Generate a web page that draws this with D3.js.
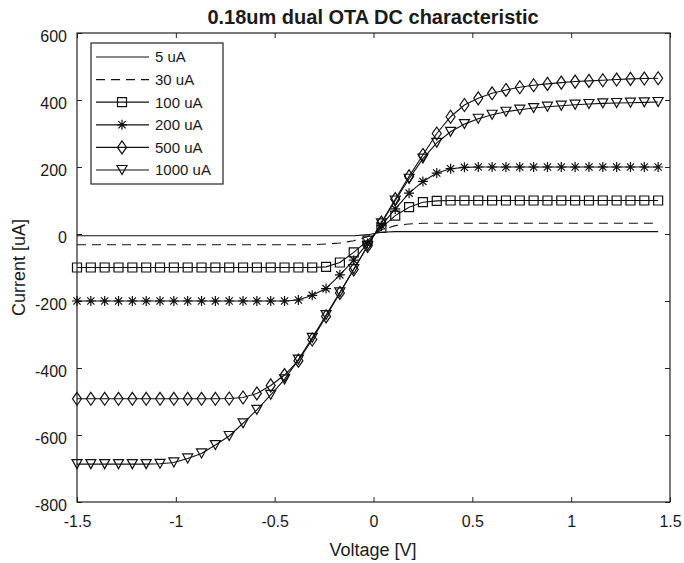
<!DOCTYPE html>
<html>
<head>
<meta charset="utf-8">
<script src="https://cdn.jsdelivr.net/npm/d3@7"></script>
<style>
body { margin: 0; background: #fff; }
text { font-family: "Liberation Sans", Arial, sans-serif; fill: #1a1a1a; }
</style>
</head>
<body>
<svg id="dcChart" width="684" height="563"></svg>
<script>
// sweep voltage [V]
var voltage = [-1.50, -1.43, -1.36, -1.29, -1.22, -1.15, -1.08, -1.01, -0.94, -0.87,
    -0.80, -0.73, -0.66, -0.59, -0.52, -0.45, -0.38, -0.31, -0.24, -0.17,
    -0.10, -0.03, 0.04, 0.11, 0.18, 0.25, 0.32, 0.39, 0.46, 0.53,
    0.60, 0.67, 0.74, 0.81, 0.88, 0.95, 1.02, 1.09, 1.16, 1.23,
    1.30, 1.37, 1.44];

// output current [uA] per bias
var bias5 = [-5, -5, -5, -5, -5, -5, -5, -5, -5, -5,
    -5, -5, -5, -5, -5, -5, -5, -5, -5, -5,
    -5, -2, 5, 7, 7, 7, 7, 7, 7, 7,
    7, 7, 7, 7, 7, 7, 7, 7, 7, 7,
    7, 7, 7];
var bias30 = [-32, -32, -32, -32, -32, -32, -32, -32, -32, -32,
    -32, -32, -32, -32, -32, -32, -32, -32, -30, -27,
    -20, -8, 12, 25, 30, 32, 32, 32, 32, 32,
    32, 32, 32, 32, 32, 32, 32, 32, 32, 32,
    32, 32, 32];
var bias100 = [-100, -100, -100, -100, -100, -100, -100, -100, -100, -100,
    -100, -100, -100, -100, -100, -100, -100, -100, -98, -85,
    -55, -20, 18, 55, 80, 95, 99, 100, 100, 100,
    100, 100, 100, 100, 100, 100, 100, 100, 100, 100,
    100, 100, 100];
var bias200 = [-200, -200, -200, -200, -200, -200, -200, -200, -200, -200,
    -200, -200, -200, -200, -200, -200, -197, -183, -163, -122,
    -78, -28, 25, 75, 122, 157, 182, 195, 199, 200,
    200, 200, 200, 200, 200, 200, 200, 200, 200, 200,
    200, 200, 200];
var bias500 = [-492, -492, -492, -492, -492, -492, -492, -492, -492, -492,
    -492, -491, -488, -476, -452, -421, -378, -315, -246, -176,
    -106, -36, 34, 104, 172, 236, 300, 350, 385, 405,
    420, 430, 438, 444, 448, 452, 455, 457, 459, 461,
    463, 464, 465];
var bias1000 = [-687, -687, -687, -687, -687, -687, -686, -682, -670, -655,
    -630, -603, -565, -525, -480, -434, -375, -310, -242, -174,
    -105, -36, 32, 100, 165, 225, 272, 305, 328, 344,
    356, 365, 371, 376, 380, 383, 386, 388, 390, 391,
    392, 393, 394];

var seriesNames = ["5 uA", "30 uA", "100 uA", "200 uA", "500 uA", "1000 uA"];
var seriesValues = [bias5, bias30, bias100, bias200, bias500, bias1000];
var seriesMarkers = ["none", "none", "square", "star", "diamond", "triangle"];
var seriesDash = [null, "9,6", null, null, null, null];

var xTicks = [-1.5, -1, -0.5, 0, 0.5, 1, 1.5];
var yTicks = [-800, -600, -400, -200, 0, 200, 400, 600];

var svg = d3.select("#dcChart");
var margin = {left: 77, right: 14, top: 33, bottom: 61};
var width = +svg.attr("width"), height = +svg.attr("height");

var x = d3.scaleLinear().domain([-1.5, 1.5]).range([margin.left, width - margin.right]);
var y = d3.scaleLinear().domain([-800, 600]).range([height - margin.bottom, margin.top]);

// plain hyphen minus like the original plot
function tickText(d) { return String(d); }

function markerPath(type) {
    if (type == "square") return "M-4.5,-4.5H4.5V4.5H-4.5Z";
    if (type == "diamond") return "M0,-6.5L4.5,0L0,6.5L-4.5,0Z";
    if (type == "triangle") return "M-5,-4.5L5,-4.5L0,4.5Z";
    if (type == "star") return "M-5,0H5M0,-5V5M-3.6,-3.6L3.6,3.6M-3.6,3.6L3.6,-3.6";
    return "";
}

function drawAxes() {
    svg.append("rect").attr("width", width).attr("height", height).attr("fill", "#fff");

    var bottom = svg.append("g")
        .attr("transform", "translate(0," + y(-800) + ")")
        .call(d3.axisBottom(x).tickValues(xTicks).tickSize(-5).tickPadding(14).tickFormat(tickText));
    var top = svg.append("g")
        .attr("transform", "translate(0," + y(600) + ")")
        .call(d3.axisTop(x).tickValues(xTicks).tickSize(-5).tickFormat(""));
    var left = svg.append("g")
        .attr("transform", "translate(" + x(-1.5) + ",0)")
        .call(d3.axisLeft(y).tickValues(yTicks).tickSize(-5).tickPadding(10).tickFormat(tickText));
    var right = svg.append("g")
        .attr("transform", "translate(" + x(1.5) + ",0)")
        .call(d3.axisRight(y).tickValues(yTicks).tickSize(-5).tickFormat(""));

    [bottom, top, left, right].forEach(function (g) {
        g.select(".domain").remove();
        g.selectAll("line").attr("stroke", "#222");
        g.selectAll("text").style("font-size", "16px").attr("fill", "#1a1a1a");
    });
    left.selectAll("text").attr("dy", "0.55em");

    svg.append("rect")
        .attr("x", x(-1.5)).attr("y", y(600))
        .attr("width", x(1.5) - x(-1.5)).attr("height", y(-800) - y(600))
        .attr("fill", "none").attr("stroke", "#222").attr("stroke-width", 1.2);

    svg.append("text")
        .attr("x", 373).attr("y", 24)
        .attr("text-anchor", "middle")
        .style("font-size", "20px").style("font-weight", "bold")
        .text("0.18um dual OTA DC characteristic");

    svg.append("text")
        .attr("x", 373).attr("y", 556)
        .attr("text-anchor", "middle")
        .style("font-size", "18px")
        .text("Voltage [V]");

    svg.append("text")
        .attr("transform", "translate(25," + (y(-100)) + ") rotate(-90)")
        .attr("text-anchor", "middle")
        .style("font-size", "18px")
        .text("Current [uA]");
}

function drawSeries() {
    var line = d3.line()
        .x(function (d) { return x(d[0]); })
        .y(function (d) { return y(d[1]); });

    seriesValues.forEach(function (values, i) {
        var pts = voltage.map(function (v, j) { return [v, values[j]]; });
        svg.append("path")
            .datum(pts)
            .attr("d", line)
            .attr("fill", "none")
            .attr("stroke", "#111")
            .attr("stroke-width", 1.1)
            .attr("stroke-dasharray", seriesDash[i]);

        if (seriesMarkers[i] != "none") {
            svg.append("g").selectAll("path")
                .data(pts)
                .join("path")
                .attr("transform", function (d) { return "translate(" + x(d[0]) + "," + y(d[1]) + ")"; })
                .attr("d", markerPath(seriesMarkers[i]))
                .attr("fill", "none")
                .attr("stroke", "#111")
                .attr("stroke-width", 1.2);
        }
    });
}

function drawLegend() {
    var legend = svg.append("g").attr("class", "legend");
    legend.append("rect")
        .attr("x", 91).attr("y", 43).attr("width", 132).attr("height", 141)
        .attr("fill", "#fff").attr("stroke", "#222").attr("stroke-width", 1.2);

    var rows = legend.selectAll("g.row")
        .data(seriesNames)
        .join("g")
        .attr("class", "row")
        .attr("transform", function (d, i) { return "translate(0," + (57 + i * 22.6) + ")"; });

    rows.append("line")
        .attr("x1", 96).attr("x2", 149)
        .attr("stroke", "#111").attr("stroke-width", 1.2)
        .attr("stroke-dasharray", function (d, i) { return seriesDash[i]; });
    rows.append("path")
        .attr("transform", "translate(122,0)")
        .attr("d", function (d, i) { return markerPath(seriesMarkers[i]); })
        .attr("fill", "none").attr("stroke", "#111").attr("stroke-width", 1.2);
    rows.append("text")
        .attr("x", 155).attr("dy", "0.36em")
        .style("font-size", "15px")
        .text(function (d) { return d; });
}

drawAxes();
drawSeries();
drawLegend();
</script>
</body>
</html>
